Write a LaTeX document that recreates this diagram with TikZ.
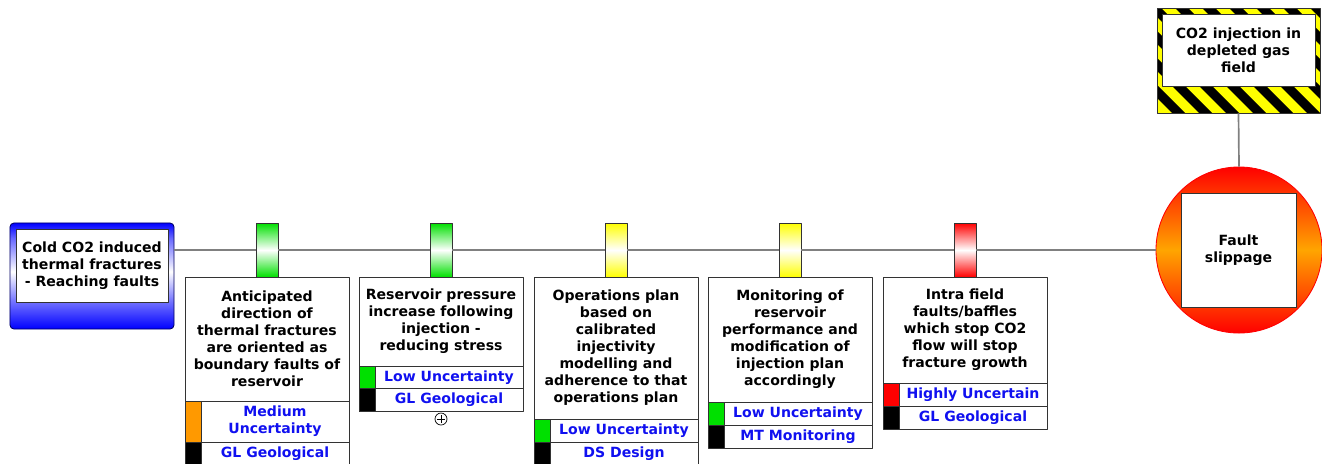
\documentclass[tikz,border=0pt]{standalone}
\usepackage{fontspec}
\setmainfont{DejaVu Sans}
\usepackage{tikz}
\definecolor{linegray}{HTML}{808080}
\definecolor{okgreen}{HTML}{00E000}
\definecolor{midyellow}{HTML}{FFFF00}
\definecolor{midorange}{HTML}{FF9900}
\definecolor{hazyellow}{HTML}{FFFF00}
\definecolor{faultorange}{HTML}{FFA500}
\definecolor{ublue}{HTML}{1010F0}
\definecolor{navy}{HTML}{000060}
\pgfdeclareverticalshading{causeshade}{100bp}{color(0bp)=(blue); color(25bp)=(blue); color(38bp)=(blue!55!white); color(52bp)=(white); color(68bp)=(blue!60!white); color(75bp)=(blue); color(100bp)=(blue)}
\tikzset{
  every picture/.style={line join=round},
  lbl/.style={font=\fontsize{10}{12.1}\selectfont\bfseries, align=center},
  box/.style={draw=black!80, fill=white, line width=0.6pt, inner sep=0pt, lbl},
  body/.style={box, minimum width=4.1cm},
  cell/.style={box, text=ublue, minimum width=3.7cm},
  sq/.style={draw=black!80, fill=#1, line width=0.6pt, minimum width=0.4cm, inner sep=0pt},
  tag/.style={draw=black!80, line width=0.6pt, minimum width=0.55cm, minimum height=1.35cm, inner sep=0pt, top color=#1, bottom color=#1, middle color=white},
  conn/.style={draw=linegray, line width=1.2pt},
  causebox/.style={draw=navy, line width=0.6pt, rounded corners=0.1cm, minimum width=4.1cm, minimum height=2.65cm, shade, shading=causeshade},
  faultcircle/.style={circle, draw=red, line width=0.6pt, minimum size=4.15cm, inner sep=0pt, top color=red, bottom color=red, middle color=faultorange},
}

\begin{document}
\begin{tikzpicture}[x=0.025cm,y=-0.025cm]
\useasboundingbox (0,0) rectangle (1322,463);
% threat
\node[causebox] (causeframe) at (92,276) {};
\node[box, minimum width=3.8cm, minimum height=1.825cm] (cause) at (92,265.5) {Cold CO2 induced\\thermal fractures\\- Reaching faults};
% hazard
\begin{scope}
\clip (1157,8) rectangle (1320,113);
\fill[hazyellow] (1157,8) rectangle (1320,113);
\foreach \s in {1040,1067,...,1330}
  \fill[black] (\s,8) -- ++(13,0) -- ++(105,105) -- ++(-13,0) -- cycle;
\end{scope}
\node[draw=black!80, line width=0.6pt, minimum width=4.075cm, minimum height=2.625cm, inner sep=0pt] (hazard) at (1238.5,60.5) {};
\node[box, minimum width=3.825cm, minimum height=1.8cm] (hazardtext) at (1238.5,50) {CO2 injection in\\depleted gas\\field};
% top event
\node[faultcircle] (fault) at (1239,250) {};
\node[box, minimum width=2.875cm, minimum height=2.85cm] (faultbox) at (1238.5,250) {Fault\\slippage};
% barrier 1
\node[tag=okgreen] (t1) at (267,250) {};
\node[body, minimum height=3.1cm] (b1) at (267,339) {Anticipated\\direction of\\thermal fractures\\are oriented as\\boundary faults of\\reservoir};
\node[cell, minimum height=1.025cm] (b1u) at (275,421.5) {Medium\\Uncertainty};
\node[sq=midorange, minimum height=1.025cm] (b1us) at (193,421.5) {};
\node[cell, minimum height=0.575cm] (b1c) at (275,453.5) {GL Geological};
\node[sq=black, minimum height=0.575cm] (b1cs) at (193,453.5) {};
% barrier 2
\node[tag=okgreen] (t2) at (441,250) {};
\node[body, minimum height=2.225cm] (b2) at (441,321.5) {Reservoir pressure\\increase following\\injection -\\reducing stress};
\node[cell, minimum height=0.575cm] (b2u) at (449,377.5) {Low Uncertainty};
\node[sq=okgreen, minimum height=0.575cm] (b2us) at (367,377.5) {};
\node[cell, minimum height=0.575cm] (b2c) at (449,400) {GL Geological};
\node[sq=black, minimum height=0.575cm] (b2cs) at (367,400) {};
\node[circle, draw=black, line width=0.5pt, minimum size=0.3cm, inner sep=0pt,
  path picture={\draw[line width=0.5pt] (path picture bounding box.center) +(-0.09cm,0) -- +(0.09cm,0) +(0,-0.09cm) -- +(0,0.09cm);}] (b2plus) at (441,419) {};
% barrier 3
\node[tag=midyellow] (t3) at (616,250) {};
\node[body, minimum height=3.55cm] (b3) at (616,348) {Operations plan\\based on\\calibrated\\injectivity\\modelling and\\adherence to that\\operations plan};
\node[cell, minimum height=0.575cm] (b3u) at (624,430.5) {Low Uncertainty};
\node[sq=okgreen, minimum height=0.575cm] (b3us) at (542,430.5) {};
\node[cell, minimum height=0.575cm] (b3c) at (624,453.5) {DS Design};
\node[sq=black, minimum height=0.575cm] (b3cs) at (542,453.5) {};
% barrier 4
\node[tag=midyellow] (t4) at (790,250) {};
\node[body, minimum height=3.125cm] (b4) at (790,339.5) {Monitoring of\\reservoir\\performance and\\modification of\\injection plan\\accordingly};
\node[cell, minimum height=0.575cm] (b4u) at (798,413.5) {Low Uncertainty};
\node[sq=okgreen, minimum height=0.575cm] (b4us) at (716,413.5) {};
\node[cell, minimum height=0.575cm] (b4c) at (798,436.5) {MT Monitoring};
\node[sq=black, minimum height=0.575cm] (b4cs) at (716,436.5) {};
% barrier 5
\node[tag=red] (t5) at (965,250) {};
\node[body, minimum height=2.65cm] (b5) at (965,330) {Intra field\\faults/baffles\\which stop CO2\\flow will stop\\fracture growth};
\node[cell, minimum height=0.575cm] (b5u) at (973,394.5) {Highly Uncertain};
\node[sq=red, minimum height=0.575cm] (b5us) at (891,394.5) {};
\node[cell, minimum height=0.575cm] (b5c) at (973,417.5) {GL Geological};
\node[sq=black, minimum height=0.575cm] (b5cs) at (891,417.5) {};
% connectors
\draw[conn] (causeframe.east |- t1.west) -- (t1.west);
\draw[conn] (t1.east) -- (t2.west);
\draw[conn] (t2.east) -- (t3.west);
\draw[conn] (t3.east) -- (t4.west);
\draw[conn] (t4.east) -- (t5.west);
\draw[conn] (t5.east) -- (fault.west);
\draw[conn] (hazard.south) -- (fault.north);
\end{tikzpicture}
\end{document}
